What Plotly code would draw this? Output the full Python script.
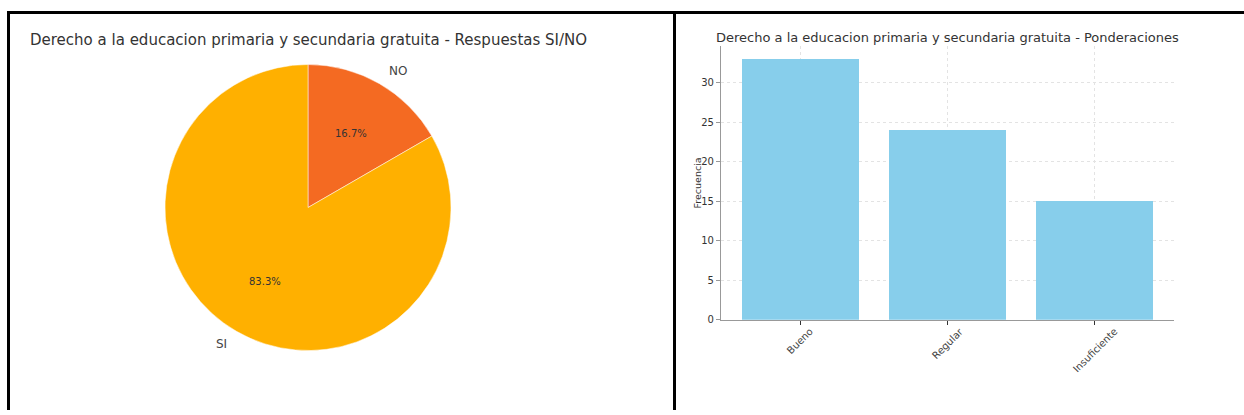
import math
import plotly.graph_objects as go

# ---- data ----
pie_labels = ["NO", "SI"]
pie_values = [1, 5]
pie_colors = ["#F46A22", "#FFB000"]

bar_categories = ["Bueno", "Regular", "Insuficiente"]
bar_values = [33, 24, 15]
y_ticks = [0, 5, 10, 15, 20, 25, 30]

title_left = "Derecho a la educacion primaria y secundaria gratuita - Respuestas SI/NO"
title_right = "Derecho a la educacion primaria y secundaria gratuita - Ponderaciones"

W, H = 1244, 409  # effective viewport used for layout fractions
FONT = "DejaVu Sans"

def px(x):
    return x / W

def py(y):
    return 1 - y / H

fig = go.Figure()

# pie geometry (pixels)
cx, cy, r = 308, 207, 143
fig.add_trace(go.Pie(
    labels=pie_labels, values=pie_values, sort=False,
    direction="clockwise", rotation=0,
    marker=dict(colors=pie_colors, line=dict(color="white", width=0.5)),
    textinfo="none", hoverinfo="label+percent", showlegend=False,
    domain=dict(x=[px(cx - r), px(cx + r)], y=[py(cy + r), py(cy - r)]),
))

annotations = []
total = sum(pie_values)
start = 90.0
for lab, v in zip(pie_labels, pie_values):
    span = 360.0 * v / total
    mid = math.radians(start - span / 2)
    start -= span
    tx = cx + 0.6 * r * math.cos(mid)
    ty = cy - 0.6 * r * math.sin(mid)
    annotations.append(dict(x=px(tx), y=py(ty), xref="paper", yref="paper",
                            text=f"{100 * v / total:.1f}%", showarrow=False,
                            xanchor="center", yanchor="middle",
                            font=dict(family=FONT, size=10, color="#333333")))
    lx = cx + 1.1 * r * math.cos(mid)
    ly = cy - 1.1 * r * math.sin(mid)
    annotations.append(dict(x=px(lx), y=py(ly), xref="paper", yref="paper",
                            text=lab, showarrow=False,
                            xanchor="left" if math.cos(mid) > 0 else "right",
                            yanchor="middle",
                            font=dict(family=FONT, size=12, color="#444444")))

# bar chart
fig.add_trace(go.Bar(
    x=bar_categories, y=bar_values, width=0.8,
    marker=dict(color="#87CEEB", line=dict(width=0)),
    xaxis="x", yaxis="y", showlegend=False,
))

for c in bar_categories:
    annotations.append(dict(x=c, y=py(322), xref="x", yref="paper",
                            text=c, textangle=-45, showarrow=False,
                            xanchor="center", yanchor="top",
                            font=dict(family=FONT, size=10, color="#444444")))

annotations.append(dict(x=px(28), y=py(40), xref="paper", yref="paper",
                        text=title_left, showarrow=False,
                        xanchor="left", yanchor="middle",
                        font=dict(family=FONT, size=15, color="#333333")))
annotations.append(dict(x=px(947), y=py(37), xref="paper", yref="paper",
                        text=title_right, showarrow=False,
                        xanchor="center", yanchor="middle",
                        font=dict(family=FONT, size=13, color="#333333")))
annotations.append(dict(x=px(697), y=py(183), xref="paper", yref="paper",
                        text="Frecuencia", textangle=-90, showarrow=False,
                        xanchor="center", yanchor="middle",
                        font=dict(family=FONT, size=9.5, color="#333333")))

shapes = [
    dict(type="line", xref="paper", yref="paper", x0=px(7), x1=1, y0=py(12.5), y1=py(12.5),
         line=dict(color="black", width=3)),
    dict(type="line", xref="paper", yref="paper", x0=px(8.5), x1=px(8.5), y0=py(11), y1=0,
         line=dict(color="black", width=3)),
    dict(type="line", xref="paper", yref="paper", x0=px(674.5), x1=px(674.5), y0=py(11), y1=0,
         line=dict(color="black", width=3)),
]

fig.update_layout(
    autosize=True,
    margin=dict(l=0, r=0, t=0, b=0),
    paper_bgcolor="white", plot_bgcolor="white",
    font=dict(family=FONT, color="#333333"),
    xaxis=dict(domain=[px(721), px(1174)], anchor="y",
               range=[-0.54, 2.54], showticklabels=False,
               ticks="outside", ticklen=4, tickcolor="#333333",
               showline=True, linecolor="#999999", linewidth=1.2,
               showgrid=True, gridcolor="#e3e3e3", griddash="dot", gridwidth=1,
               zeroline=False, fixedrange=True),
    yaxis=dict(domain=[py(319), py(46)], anchor="x",
               range=[0, 34.65], tickvals=y_ticks,
               ticks="outside", ticklen=4, tickcolor="#999999",
               tickfont=dict(family=FONT, size=10, color="#333333"),
               showline=True, linecolor="#999999", linewidth=1.2,
               showgrid=True, gridcolor="#e3e3e3", griddash="dot", gridwidth=1,
               zeroline=False, fixedrange=True),
    annotations=annotations,
    shapes=shapes,
    bargap=0,
)

fig.write_html(
    "out.html",
    config={"displayModeBar": False, "responsive": True},
    default_width="100vw",
    default_height="100vh",
    post_script=(
        "document.documentElement.style.margin='0px';"
        "document.body.style.margin='0px';"
        "document.body.style.overflow='hidden';"
        "var gd=document.getElementById('{plot_id}');"
        "gd.style.position='fixed';gd.style.left='0px';gd.style.top='0px';"
        "Plotly.Plots.resize(gd);"
    ),
)
